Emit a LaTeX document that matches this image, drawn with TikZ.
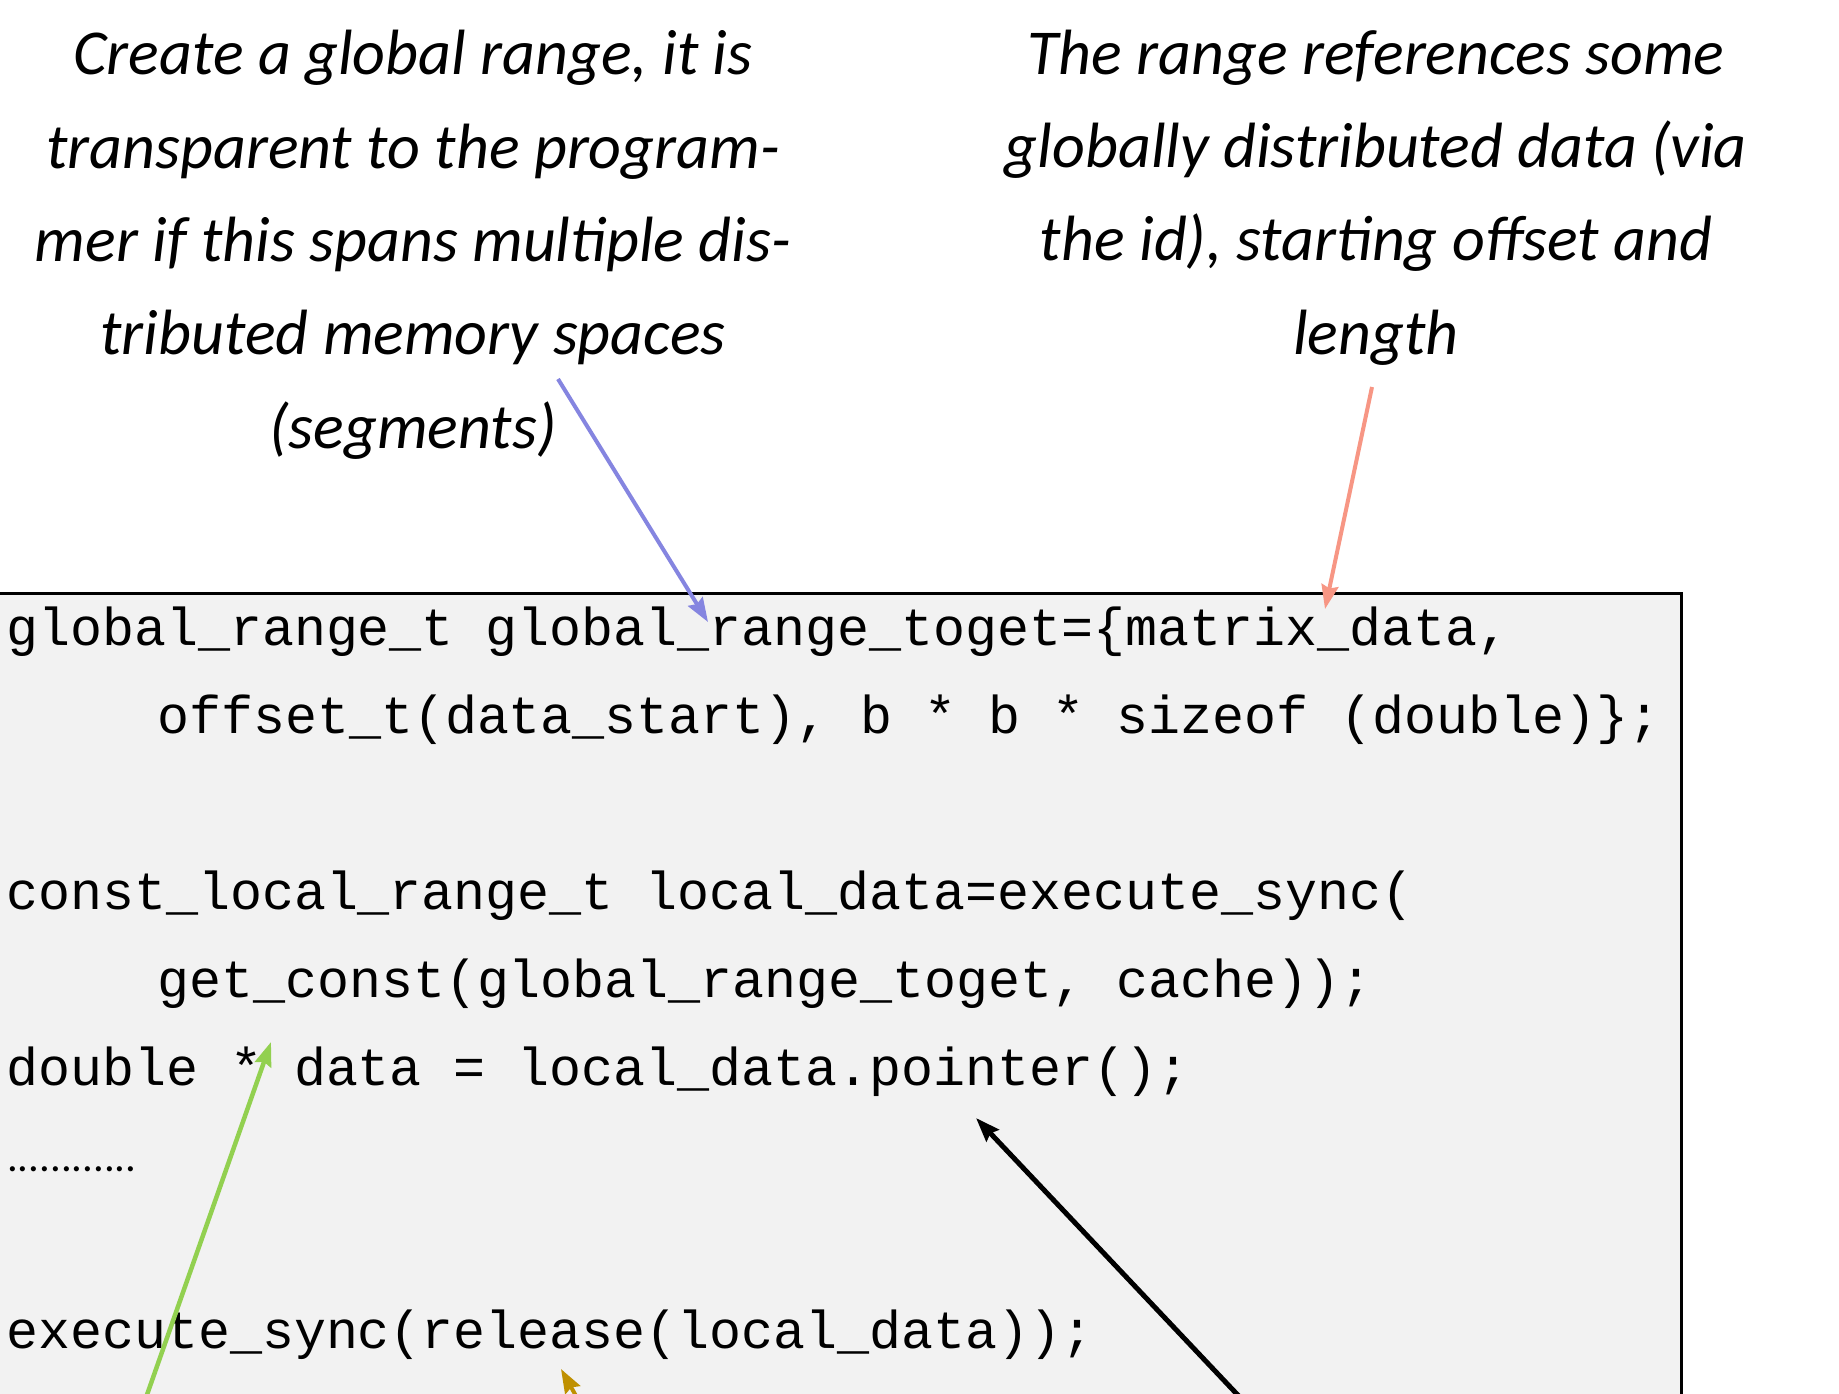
\documentclass[tikz,border=0pt]{standalone}
\usepackage{fontspec}
\setmainfont{Carlito}
\setmonofont{Liberation Mono}
\usetikzlibrary{arrows.meta}
\definecolor{boxfill}{HTML}{F2F2F2}
\definecolor{bluearr}{HTML}{8585E0}
\definecolor{salmonarr}{HTML}{F79684}
\definecolor{greenarr}{HTML}{92D050}
\definecolor{goldarr}{HTML}{BF9000}
\frenchspacing
\begin{document}
\begin{tikzpicture}[x=1pt,y=-1pt,
  ann/.style={align=center, inner sep=0pt, anchor=base,
    font=\fontsize{64}{93.3}\selectfont\itshape},
  code/.style={anchor=base west, inner sep=0pt,
    font=\fontsize{53.3}{60}\selectfont\ttfamily},
  ptr/.style={line width=4pt, -{Stealth[length=24pt,width=17pt,inset=3pt]}},
]
\clip (0,0) rectangle (1839,1394);
\fill[white] (0,0) rectangle (1839,1394);
% code box
\draw[line width=3pt, fill=boxfill] (-20,593.5) rectangle (1681,1520);
% annotations (anchor = baseline of last line)
\node[ann] (ann1) at (413,448) {Create a global range, it is\\transparent to the program-\\mer if this spans multiple dis-\\tributed memory spaces\\(segments)};
\node[ann] (ann2) at (1376,354) {The range references some\\globally distributed data (via\\the id), starting offset and\\length};
% code lines
\node[code] (l1) at (6,645.5) {global\_range\_t global\_range\_toget=\{matrix\_data,};
\node[code] (l2) at (157,733.4) {offset\_t(data\_start), b * b * sizeof (double)\};};
\node[code] (l4) at (6,909.3) {const\_local\_range\_t local\_data=execute\_sync(};
\node[code] (l5) at (157,997.2) {get\_const(global\_range\_toget, cache));};
\node[code] (l6) at (6,1085.1) {double * data = local\_data.pointer();};
\node[anchor=base west, inner sep=0pt, font=\fontsize{42.7}{50}\selectfont] (l7) at (7,1171) {............};
\node[code] (l9) at (6,1348.8) {execute\_sync(release(local\_data));};
% connector ends
\coordinate (bS) at (558,379);
\coordinate (bE) at (708,622);
\coordinate (sS) at (1372,387);
\coordinate (sE) at (1325,609);
\coordinate (gS) at (110,1500);
\coordinate (gE) at (271,1042);
\coordinate (oS) at (634,1500);
\coordinate (oE) at (561,1369);
\coordinate (kS) at (1337,1500);
\coordinate (kE) at (976,1118);
% connectors
\draw[ptr, bluearr] (bS) -- (bE);
\draw[ptr, salmonarr] (sS) -- (sE);
\draw[ptr, greenarr, line width=4.5pt] (gS) -- (gE);
\draw[ptr, goldarr] (oS) -- (oE);
\draw[ptr, black, line width=5pt] (kS) -- (kE);
\end{tikzpicture}
\end{document}
